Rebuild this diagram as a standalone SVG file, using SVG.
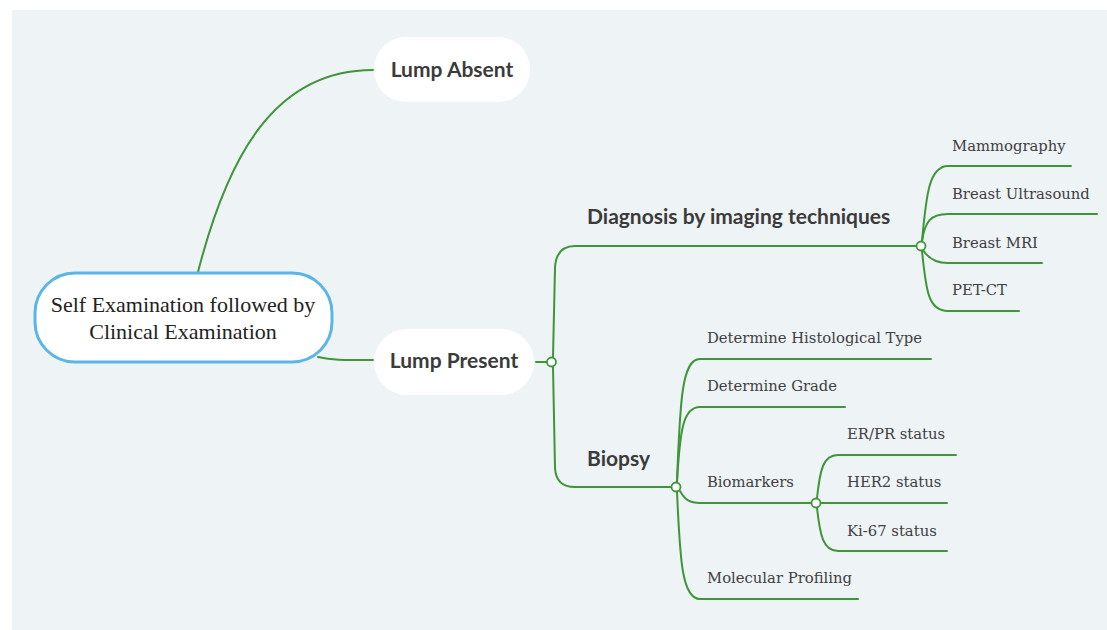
<svg xmlns="http://www.w3.org/2000/svg" width="1107" height="630" viewBox="0 0 1107 630">
<style>
.ln{fill:none;stroke:#3f9639;stroke-width:2;stroke-linecap:round}
.dot{fill:#ffffff;stroke:#3f9639;stroke-width:1.8}
.pill{fill:#ffffff}
.hd{font-family:Lato,"Noto Sans",sans-serif;font-weight:700;font-size:21px;fill:#3b3b3b}
.lf{font-family:"DejaVu Serif","Liberation Serif",serif;font-size:14.8px;fill:#404040}
.rt{font-family:"Liberation Serif","DejaVu Serif",serif;font-size:22px;fill:#222222;text-anchor:middle}
</style>
<rect x="0" y="0" width="1107" height="630" fill="#ffffff"/>
<rect x="12" y="10" width="1095" height="620" fill="#eef3f6"/>
<g id="connectors">
<path class="ln" d="M198,272 C228,155 275,70 373,70"/>
<path class="ln" d="M318,357 C335,361 350,360 373,360"/>
<path class="ln" d="M536,362 L547,362"/>
<path class="ln" d="M553,357 L555,268 Q556,246 575,246 L916,246"/>
<path class="ln" d="M553,367 L555,468 Q556,487 575,487 L671,487"/>
<path class="ln" d="M922,241 C926,200 928,166 948,166 L1071,166"/>
<path class="ln" d="M922,241 C925,222 930,214 948,214 L1097,214"/>
<path class="ln" d="M923,250 C928,258 935,263 948,263 L1042,263"/>
<path class="ln" d="M922,251 C926,290 928,311 948,311 L1019,311"/>
<path class="ln" d="M677,482 C680,400 682,359 700,359 L931,359"/>
<path class="ln" d="M677,482 C680,430 683,407 700,407 L845,407"/>
<path class="ln" d="M680,491 C685,500 690,503 700,503 L811,503"/>
<path class="ln" d="M677,492 C680,560 682,599 700,599 L858,599"/>
<path class="ln" d="M817,498 C820,470 823,455 838,455 L956,455"/>
<path class="ln" d="M821,503 L947,503"/>
<path class="ln" d="M817,508 C820,535 823,551 838,551 L947,551"/>
<circle class="dot" cx="551.5" cy="362" r="4.5"/>
<circle class="dot" cx="921" cy="246" r="4.5"/>
<circle class="dot" cx="676" cy="487" r="4.5"/>
<circle class="dot" cx="816" cy="503" r="4.5"/>
</g>
<g id="root">
<rect x="35" y="273" width="297" height="89" rx="40" fill="#ffffff" stroke="#5ab6e6" stroke-width="3"/>
<text class="rt" x="183" y="312">Self Examination followed by</text>
<text class="rt" x="183" y="339">Clinical Examination</text>
</g>
<g id="lump-absent">
<rect class="pill" x="374" y="37" width="156" height="65" rx="32"/>
<text class="hd" x="452" y="77" text-anchor="middle">Lump Absent</text>
</g>
<g id="lump-present">
<rect class="pill" x="374" y="329" width="160" height="66" rx="33"/>
<text class="hd" x="454" y="368" text-anchor="middle">Lump Present</text>
</g>
<g id="diagnosis"><text class="hd" x="587" y="224">Diagnosis by imaging techniques</text></g>
<g id="biopsy"><text class="hd" x="587" y="466">Biopsy</text></g>
<g id="mammography"><text class="lf" x="952" y="151">Mammography</text></g>
<g id="ultrasound"><text class="lf" x="952" y="199">Breast Ultrasound</text></g>
<g id="mri"><text class="lf" x="952" y="248">Breast MRI</text></g>
<g id="petct"><text class="lf" x="952" y="295">PET-CT</text></g>
<g id="histological"><text class="lf" x="707" y="343">Determine Histological Type</text></g>
<g id="grade"><text class="lf" x="707" y="391">Determine Grade</text></g>
<g id="biomarkers"><text class="lf" x="707" y="487">Biomarkers</text></g>
<g id="molecular"><text class="lf" x="707" y="583">Molecular Profiling</text></g>
<g id="erpr"><text class="lf" x="847" y="439">ER/PR status</text></g>
<g id="her2"><text class="lf" x="847" y="487">HER2 status</text></g>
<g id="ki67"><text class="lf" x="847" y="536">Ki-67 status</text></g>
</svg>
